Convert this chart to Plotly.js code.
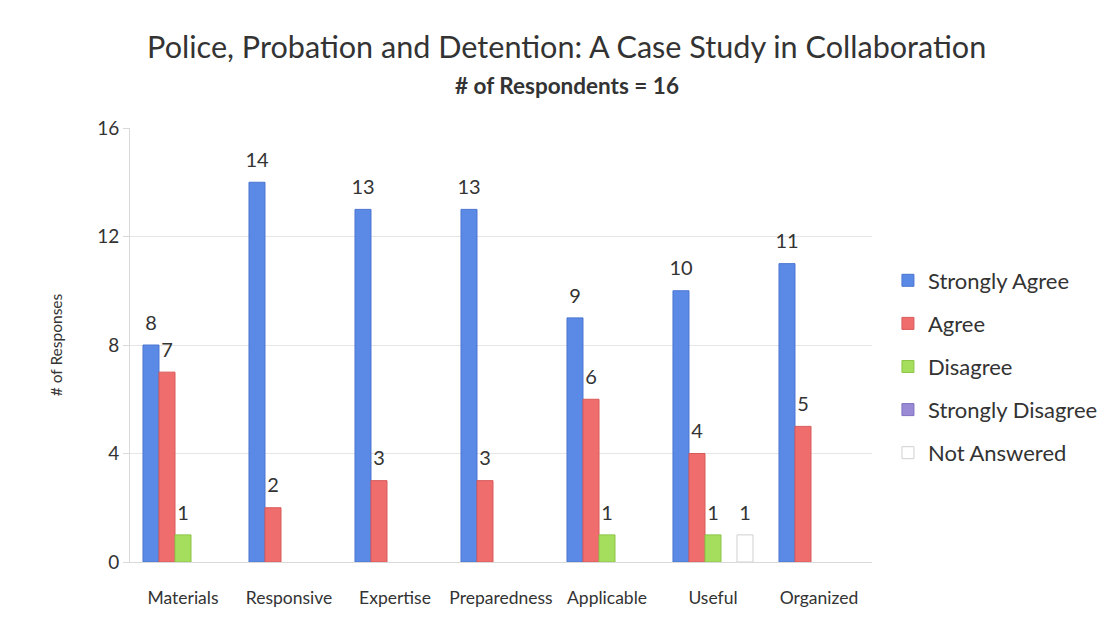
<!DOCTYPE html>
<html>
<head>
<meta charset="utf-8">
<script src="https://cdn.plot.ly/plotly-3.0.1.min.js"></script>
<style>html,body{margin:0;padding:0;background:#fff;}#chart{width:1109px;height:629px;}</style>
</head>
<body>
<div id="chart"></div>
<script>
const categories = ["Materials", "Responsive", "Expertise", "Preparedness", "Applicable", "Useful", "Organized"];
const seriesNames = ["Strongly Agree", "Agree", "Disagree", "Strongly Disagree", "Not Answered"];
const stronglyAgree = [8, 14, 13, 13, 9, 10, 11];
const agree = [7, 2, 3, 3, 6, 4, 5];
const disagree = [1, 0, 0, 0, 1, 1, 0];
const stronglyDisagree = [0, 0, 0, 0, 0, 0, 0];
const notAnswered = [0, 0, 0, 0, 0, 1, 0];
const yTicks = [0, 4, 8, 12, 16];

const values = [stronglyAgree, agree, disagree, stronglyDisagree, notAnswered];
const colors = ["#5b8ae6", "#ef6d6d", "#a5de5c", "#9a8ad6", "#ffffff"];
const lines = ["#4a76d0", "#d95a5a", "#8cc548", "#8070c0", "#d0d0d0"];
const GAP = 0.245;

const barTraces = values.map((v, i) => ({
  type: "bar",
  name: seriesNames[i],
  x: categories,
  y: v.map(n => n > 0 ? n : null),
  marker: {color: colors[i], line: {color: lines[i], width: 1}},
  legendgroup: "g" + i,
  offsetgroup: "b" + i,
  hoverinfo: "x+y+name"
}));

const labelTraces = values.map((v, i) => ({
  type: "scatter",
  mode: "markers+text",
  x: categories,
  y: v.map(n => n > 0 ? n : null),
  text: v.map(n => n > 0 ? String(n) : ""),
  textposition: "top center",
  textfont: {family: "Lato, 'Open Sans', sans-serif", size: 20, color: "#333"},
  marker: {size: 15, color: "rgba(0,0,0,0)", line: {width: 0}},
  cliponaxis: false,
  showlegend: false,
  offsetgroup: "b" + i,
  hoverinfo: "skip"
}));

const layout = {
  width: 1109, height: 629,
  paper_bgcolor: "#fff", plot_bgcolor: "#fff",
  margin: {l: 130, r: 237, t: 128, b: 67, autoexpand: false},
  barmode: "group",
  bargap: GAP,
  bargroupgap: 0,
  scattermode: "group",
  scattergap: GAP,
  font: {family: "Lato, 'Open Sans', sans-serif", color: "#333"},
  title: {
    text: "Police, Probation and Detention: A Case Study in Collaboration",
    font: {family: "Lato, 'Open Sans', sans-serif", size: 30.6, color: "#333"},
    x: 0.511, xanchor: "center", yref: "container", y: 1 - 47 / 629, yanchor: "middle"
  },
  annotations: [{
    text: "<b># of Respondents = 16</b>",
    xref: "paper", yref: "paper", x: 0.589, y: 1.099,
    xanchor: "center", yanchor: "middle", showarrow: false,
    font: {family: "Lato, 'Open Sans', sans-serif", size: 22.5, color: "#333"}
  }],
  xaxis: {
    tickfont: {size: 17.5, color: "#333"},
    showline: true, linecolor: "#d9d9d9", linewidth: 1,
    ticks: "", showgrid: false,
    ticklabelstandoff: 20
  },
  yaxis: {
    range: [0, 16],
    tickvals: yTicks,
    tickfont: {size: 19, color: "#333"},
    showgrid: true, gridcolor: "#e6e6e6",
    showline: true, linecolor: "#d9d9d9",
    ticks: "outside", ticklen: 6, tickcolor: "#d9d9d9",
    zeroline: false,
    title: {text: "# of Responses", font: {size: 15.5, color: "#333"}, standoff: 30}
  },
  legend: {
    x: 1.0215, xanchor: "left", y: 0.697, yanchor: "top",
    font: {size: 22, color: "#333"},
    traceorder: "grouped",
    tracegroupgap: 11.5,
    itemwidth: 30
  },
  showlegend: true
};

Plotly.newPlot("chart", barTraces.concat(labelTraces), layout, {displayModeBar: false, staticPlot: true});
</script>
</body>
</html>
